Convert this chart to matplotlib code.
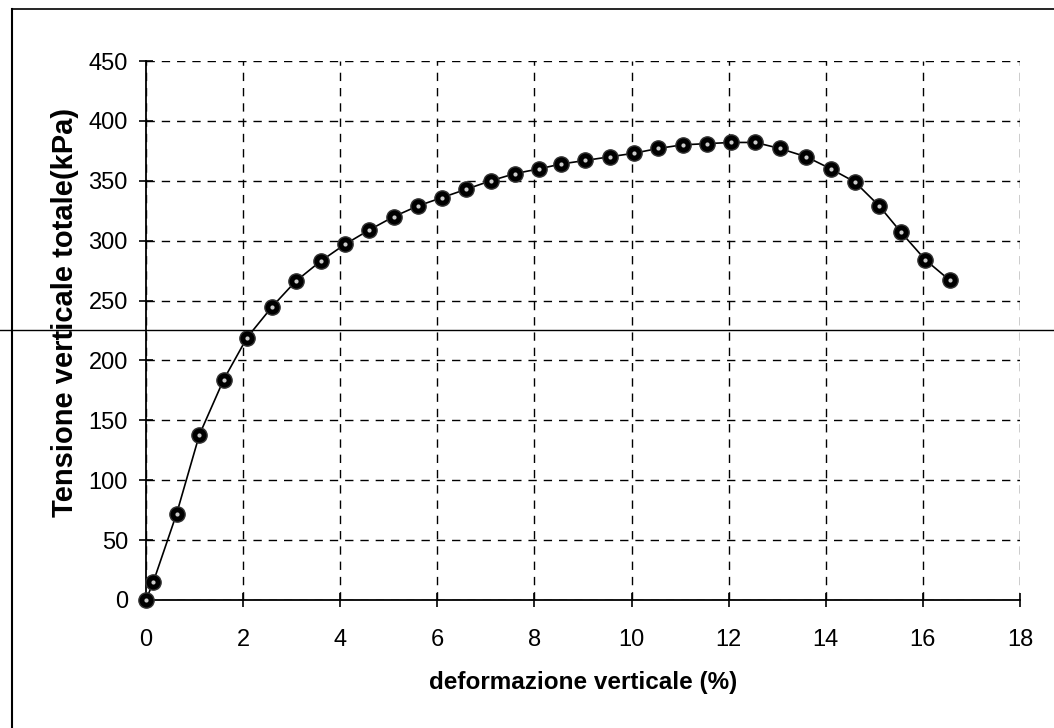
import matplotlib
matplotlib.use("Agg")
import matplotlib.pyplot as plt
from matplotlib.lines import Line2D

plt.rcParams["font.family"] = ["Liberation Sans", "DejaVu Sans"]

# deformazione verticale (%) vs tensione verticale totale (kPa)
strain = [0.0, 0.15, 0.63, 1.1, 1.6, 2.08, 2.6, 3.08, 3.6, 4.1, 4.6, 5.1, 5.6,
          6.1, 6.6, 7.1, 7.6, 8.1, 8.55, 9.05, 9.55, 10.05, 10.55, 11.05,
          11.55, 12.05, 12.55, 13.05, 13.6, 14.1, 14.6, 15.1, 15.55, 16.05, 16.55]
stress = [0, 15, 72, 138, 184, 219, 245, 266, 283, 297, 309, 320, 329,
          336, 343, 350, 356, 360, 364, 367, 370, 373, 377, 380,
          381, 382, 382, 377, 370, 360, 349, 329, 307, 284, 267]

xticks = list(range(0, 19, 2))
yticks = list(range(0, 451, 50))

fig = plt.figure(figsize=(10.54, 7.28), dpi=100)
ax = fig.add_axes([146 / 1054, 1 - 600 / 728, 874 / 1054, 539 / 728])

ax.plot(strain, stress, color="black", linewidth=1.2, zorder=3, clip_on=False)
ax.plot(strain, stress, linestyle="none", marker="o", markersize=11,
        markerfacecolor="black", markeredgecolor="#333333", zorder=4, clip_on=False)
# small highlight on the markers
ax.plot(strain, stress, linestyle="none", marker="o", markersize=3,
        markerfacecolor="white", markeredgecolor="none", alpha=0.8, zorder=5, clip_on=False)

ax.set_xlim(0, 18)
ax.set_ylim(0, 450)
ax.set_xticks(xticks)
ax.set_yticks(yticks)
ax.tick_params(direction="inout", length=10, width=1.2, labelsize=17, pad=8)
ax.tick_params(axis="x", pad=16)

ax.grid(True, color="black", linestyle=(0, (6, 5)), linewidth=1.0)
ax.spines["top"].set_visible(False)
ax.spines["right"].set_visible(False)
ax.spines["left"].set_linewidth(1.3)
ax.spines["bottom"].set_linewidth(1.3)

ax.set_xlabel("deformazione verticale (%)", fontsize=17.5, fontweight="bold")
ax.set_ylabel("Tensione verticale totale(kPa)", fontsize=21, fontweight="bold")
ax.xaxis.set_label_coords(0.5, -(682 - 600) / 539, transform=ax.transAxes)
ax.xaxis.label.set_va("center")
ax.yaxis.set_label_coords(-(146 - 65) / 874, (600 - 312) / 539, transform=ax.transAxes)
ax.yaxis.label.set_va("center")

# scanned page frame
fig.add_artist(Line2D([12 / 1054, 12 / 1054], [0, 1 - 9 / 728], color="black", linewidth=1.5))
fig.add_artist(Line2D([12 / 1054, 1], [1 - 9 / 728, 1 - 9 / 728], color="black", linewidth=1.2))
fig.add_artist(Line2D([0, 1], [1 - 330 / 728, 1 - 330 / 728], color="black", linewidth=1.0))

fig.savefig("out.png", dpi=100)
